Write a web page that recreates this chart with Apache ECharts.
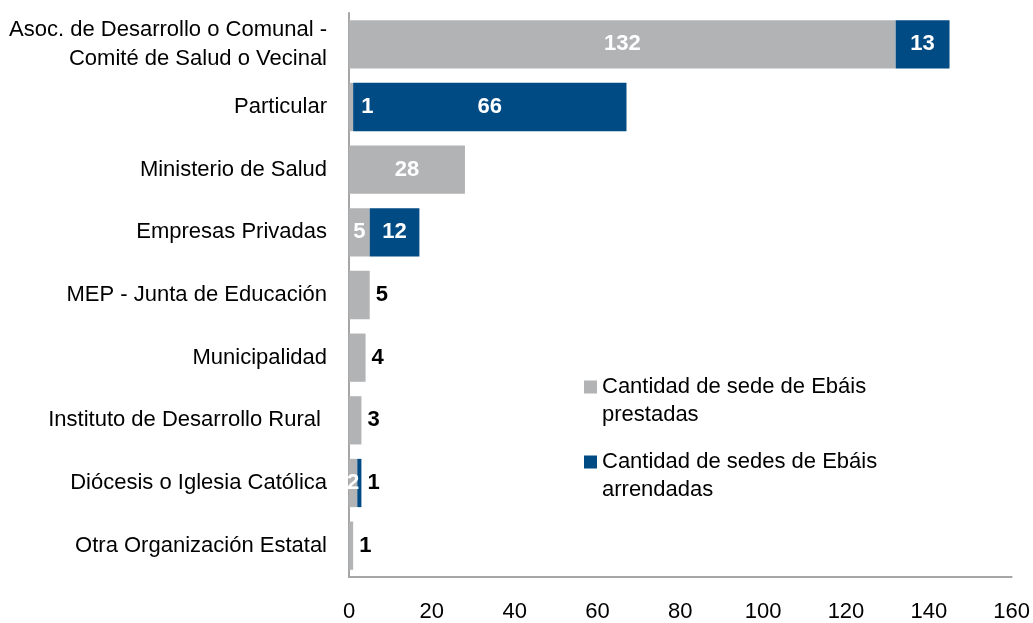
<!DOCTYPE html>
<html>
<head>
<meta charset="utf-8">
<script src="https://cdn.jsdelivr.net/npm/echarts@6/dist/echarts.min.js"></script>
<style>
html,body{margin:0;padding:0;background:#fff;}
#chart{width:1033px;height:623px;}
</style>
</head>
<body>
<div id="chart"></div>
<script>
const categories = [
  'Asoc. de Desarrollo o Comunal -\nComité de Salud o Vecinal',
  'Particular',
  'Ministerio de Salud',
  'Empresas Privadas',
  'MEP - Junta de Educación',
  'Municipalidad',
  'Instituto de Desarrollo Rural ',
  'Diócesis o Iglesia Católica',
  'Otra Organización Estatal'
];
const prestadas = [132, 1, 28, 5, 5, 4, 3, 2, 1];
const arrendadas = [13, 66, null, 12, null, null, null, 1, null];
const seriesNames = ['Cantidad de sede de Ebáis\nprestadas', 'Cantidad de sedes de Ebáis\narrendadas'];
const xTicks = [0, 20, 40, 60, 80, 100, 120, 140, 160];

// label placement per point: 'in' = inside white, 'outW' = right white, 'outB' = right black
const prestLabelMode = ['in', 'outW', 'in', 'in', 'outB', 'outB', 'outB', 'in', 'outB'];
const arrLabelMode = ['in', 'in', null, 'in', null, null, null, 'outB', null];

const GRAY = '#B2B3B5';
const BLUE = '#014B85';
const FONT = '"Liberation Sans", Arial, sans-serif';

function mkData(vals, modes) {
  return vals.map((v, i) => {
    if (v == null) return '-';
    const m = modes[i];
    let label;
    if (m === 'in') label = { position: 'inside', color: '#fff' };
    else if (m === 'outW') label = { position: 'right', color: '#fff', distance: 8 };
    else label = { position: 'right', color: '#000', distance: 6 };
    return { value: v, label: label };
  });
}

function mkLegend(name, top) {
  return {
    orient: 'vertical',
    left: 584,
    top: top,
    padding: 0,
    itemWidth: 13,
    itemHeight: 13,
    itemGap: 0,
    icon: 'rect',
    textStyle: { fontSize: 22, color: '#000', lineHeight: 28, fontFamily: FONT },
    formatter: (n) => ' \n' + n,
    data: [name]
  };
}

const chart = echarts.init(document.getElementById('chart'), null, { renderer: 'canvas' });
chart.setOption({
  animation: false,
  backgroundColor: '#fff',
  textStyle: { fontFamily: FONT },
  grid: { left: 349, right: 18, top: 13, bottom: 45, containLabel: false },
  legend: [mkLegend(seriesNames[0], 345), mkLegend(seriesNames[1], 420)],
  xAxis: {
    type: 'value',
    min: 0,
    max: 160,
    interval: 20,
    splitLine: { show: false },
    axisTick: { show: false },
    axisLine: { show: true, lineStyle: { color: '#A6A6A6', width: 2 } },
    axisLabel: {
      fontSize: 22, color: '#000', margin: 24, fontFamily: FONT,
      formatter: (v) => xTicks.includes(v) ? String(v) : ''
    }
  },
  yAxis: {
    type: 'category',
    inverse: true,
    data: categories,
    axisTick: { show: false },
    axisLine: { show: true, lineStyle: { color: '#A6A6A6', width: 2 } },
    axisLabel: { fontSize: 22, color: '#000', margin: 22, lineHeight: 29, align: 'right', fontFamily: FONT }
  },
  series: [
    {
      name: seriesNames[0],
      type: 'bar',
      stack: 'total',
      barCategoryGap: '23%',
      itemStyle: { color: GRAY },
      label: { show: true, fontSize: 22, fontWeight: 'bold', fontFamily: FONT },
      data: mkData(prestadas, prestLabelMode)
    },
    {
      name: seriesNames[1],
      type: 'bar',
      stack: 'total',
      barCategoryGap: '23%',
      itemStyle: { color: BLUE },
      label: { show: true, fontSize: 22, fontWeight: 'bold', fontFamily: FONT },
      data: mkData(arrendadas, arrLabelMode)
    }
  ]
});
</script>
</body>
</html>
